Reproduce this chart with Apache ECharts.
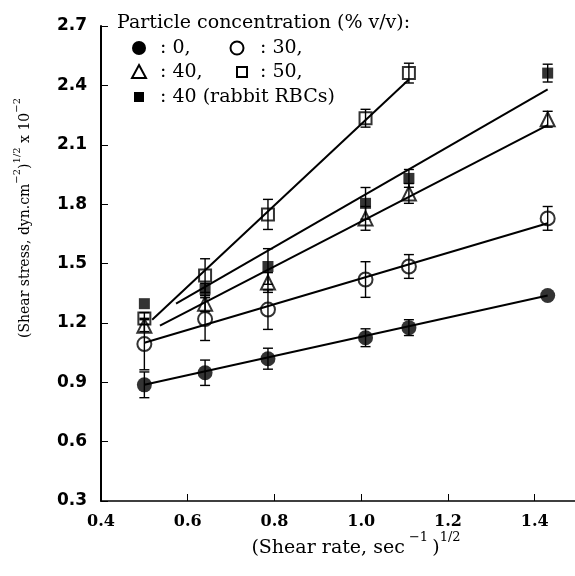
<!DOCTYPE html>
<html>
<head>
<meta charset="utf-8">
<script src="https://cdn.jsdelivr.net/npm/echarts@6/dist/echarts.min.js"></script>
<style>
  html, body { margin: 0; padding: 0; background: #fff; }
  #chart { width: 575px; height: 576px; }
</style>
</head>
<body>
<div id="chart"></div>
<script>
// Square root of shear rate, (sec^-1)^1/2
const shearRate = [0.5, 0.64, 0.785, 1.01, 1.11, 1.43];
const shearRate50 = [0.5, 0.64, 0.785, 1.01, 1.11];

// Square root of shear stress, (dyn.cm^-2)^1/2 x 10^-2, with error half-widths
const conc0 = [0.887, 0.948, 1.019, 1.125, 1.176, 1.338];
const conc0Err = [0.065, 0.064, 0.053, 0.045, 0.04, 0];
const conc30 = [1.093, 1.219, 1.267, 1.419, 1.485, 1.728];
const conc30Err = [0.13, 0.108, 0.1, 0.09, 0.06, 0.06];
const conc40 = [1.186, 1.297, 1.404, 1.728, 1.854, 2.229];
const conc40Err = [0.03, 0.04, 0.05, 0.06, 0.05, 0.04];
const conc50 = [1.222, 1.439, 1.748, 2.234, 2.462];
const conc50Err = [0.03, 0.085, 0.076, 0.045, 0.05];
const rabbit40 = [1.297, 1.37, 1.485, 1.804, 1.93, 2.462];
const rabbit40Err = [0, 0.03, 0.09, 0.08, 0.045, 0.045];

// Linear fits: [x start, y start, x end, y end]
const fit0 = [0.5, 0.887, 1.43, 1.338];
const fit30 = [0.5, 1.1, 1.43, 1.703];
const fit40 = [0.536, 1.186, 1.43, 2.199];
const fit50 = [0.518, 1.216, 1.11, 2.43];
const fitRabbit = [0.573, 1.297, 1.43, 2.38];

// Axis ticks
const xTicks = [0.4, 0.6, 0.8, 1.0, 1.2, 1.4];
const yTicks = [0.3, 0.6, 0.9, 1.2, 1.5, 1.8, 2.1, 2.4, 2.7];

const INK = '#000';
const SERIF = '"DejaVu Serif", serif';

function pairs(xs, ys) { return xs.map((x, i) => [x, ys[i]]); }
function triples(xs, ys, es) { return xs.map((x, i) => [x, ys[i], es[i]]); }
function fitLine(f) { return [[f[0], f[1]], [f[2], f[3]]]; }

function errorBarItem(params, api) {
  const x = api.value(0), y = api.value(1), e = api.value(2);
  if (!e) return null;
  const top = api.coord([x, y + e]);
  const bot = api.coord([x, y - e]);
  const hw = 5;
  const st = { stroke: INK, lineWidth: 1.4 };
  return {
    type: 'group',
    children: [
      { type: 'line', shape: { x1: top[0], y1: top[1], x2: bot[0], y2: bot[1] }, style: st },
      { type: 'line', shape: { x1: top[0] - hw, y1: top[1], x2: top[0] + hw, y2: top[1] }, style: st },
      { type: 'line', shape: { x1: bot[0] - hw, y1: bot[1], x2: bot[0] + hw, y2: bot[1] }, style: st }
    ]
  };
}

const lineSeries = [fit0, fit30, fit40, fit50, fitRabbit].map(f => ({
  type: 'line', data: fitLine(f), showSymbol: false, silent: true, z: 2,
  lineStyle: { color: INK, width: 2 }
}));

const errSeries = [
  triples(shearRate, conc0, conc0Err),
  triples(shearRate, conc30, conc30Err),
  triples(shearRate, conc40, conc40Err),
  triples(shearRate50, conc50, conc50Err),
  triples(shearRate, rabbit40, rabbit40Err)
].map(d => ({ type: 'custom', data: d, renderItem: errorBarItem, z: 3, silent: true }));

const filled = { color: INK };
const hollow = { color: 'rgba(0,0,0,0)', borderColor: INK, borderWidth: 2 };

const pointSeries = [
  { data: pairs(shearRate, conc0), symbol: 'circle', symbolSize: 15, itemStyle: filled },
  { data: pairs(shearRate, conc30), symbol: 'circle', symbolSize: 14, itemStyle: hollow },
  { data: pairs(shearRate, conc40), symbol: 'triangle', symbolSize: 14, itemStyle: hollow },
  { data: pairs(shearRate50, conc50), symbol: 'rect', symbolSize: 12, itemStyle: hollow },
  { data: pairs(shearRate, rabbit40), symbol: 'rect', symbolSize: 11, itemStyle: filled }
].map(s => Object.assign({ type: 'scatter', z: 4, silent: true }, s));

// Legend drawn as graphics
const LEGEND_FONT = '19px ' + SERIF;
const legendText = (x, y, text) => ({
  type: 'text', x: x, y: y,
  style: { text: text, font: LEGEND_FONT, fill: INK, verticalAlign: 'middle', align: 'left' }
});
const legendGraphics = [
  legendText(117, 23, 'Particle concentration (% v/v):'),
  { type: 'circle', shape: { cx: 139, cy: 48, r: 7 }, style: { fill: INK } },
  legendText(160, 48, ': 0,'),
  { type: 'circle', shape: { cx: 237, cy: 48, r: 6.5 }, style: { fill: 'none', stroke: INK, lineWidth: 2 } },
  legendText(260, 48, ': 30,'),
  { type: 'polygon', shape: { points: [[139, 65], [146, 78], [132, 78]] }, style: { fill: 'none', stroke: INK, lineWidth: 2 } },
  legendText(160, 72, ': 40,'),
  { type: 'rect', shape: { x: 237, y: 67, width: 10, height: 10 }, style: { fill: 'none', stroke: INK, lineWidth: 2 } },
  legendText(260, 72, ': 50,'),
  { type: 'rect', shape: { x: 134, y: 92, width: 10, height: 10 }, style: { fill: INK } },
  legendText(160, 97, ': 40 (rabbit RBCs)')
];

// Axis titles with superscripts (rich text tokens)
function titleRich(mainSize, supSize, lineH) {
  return {
    m: { font: mainSize + 'px ' + SERIF, fill: INK, lineHeight: lineH, verticalAlign: 'middle' },
    s: { font: supSize + 'px ' + SERIF, fill: INK, verticalAlign: 'top' }
  };
}
const xTitle = {
  type: 'text', x: 356, y: 548,
  style: {
    text: '{m|(Shear rate, sec}{s| \u22121 }{m|)}{s|1/2}',
    rich: titleRich(19, 13, 34),
    align: 'center', verticalAlign: 'middle'
  }
};
const yTitle = {
  type: 'text', x: 25, y: 218, rotation: Math.PI / 2,
  style: {
    text: '{m|(Shear stress, dyn.cm}{s|\u22122}{m|)}{s|1/2}{m| x 10}{s|\u22122}',
    rich: titleRich(14, 10, 26),
    align: 'center', verticalAlign: 'middle'
  }
};

const chart = echarts.init(document.getElementById('chart'), null, { renderer: 'canvas' });
chart.setOption({
  animation: false,
  backgroundColor: '#fff',
  grid: { left: 101, top: 26, right: 0, bottom: 75, containLabel: false },
  xAxis: {
    type: 'value', min: 0.4, max: 1.493,
    axisLine: { lineStyle: { color: INK, width: 1.5 } },
    axisTick: { inside: true, length: 7, customValues: xTicks, lineStyle: { color: INK, width: 1 } },
    axisLabel: {
      customValues: xTicks, margin: 13,
      formatter: v => v.toFixed(1),
      fontFamily: SERIF, fontWeight: 'bold', fontSize: 16, color: INK
    },
    splitLine: { show: false }
  },
  yAxis: {
    type: 'value', min: 0.3, max: 2.7, interval: 0.3,
    axisLine: { show: true, lineStyle: { color: INK, width: 2 } },
    axisTick: { show: true, inside: true, length: 7, lineStyle: { color: INK, width: 1 } },
    axisLabel: {
      margin: 14, formatter: v => v.toFixed(1),
      fontFamily: '"DejaVu Sans", sans-serif', fontWeight: 'bold', fontSize: 17, color: INK
    },
    splitLine: { show: false }
  },
  graphic: legendGraphics.concat([xTitle, yTitle]),
  series: lineSeries.concat(errSeries, pointSeries)
});
</script>
</body>
</html>
